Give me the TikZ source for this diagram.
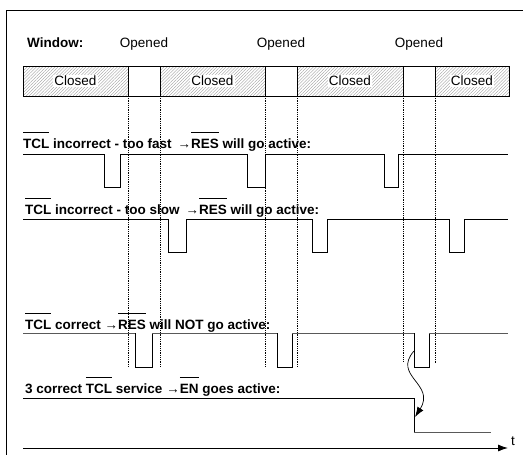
\documentclass[tikz,border=0pt]{standalone}
\usepackage{fontspec}
\setmainfont{Liberation Sans}
\usetikzlibrary{arrows.meta,patterns.meta,positioning}
\newcommand\ovl[1]{\setbox0\hbox{#1}\rlap{\raisebox{1.1em}{\rule{\wd0}{0.7pt}}}\box0\relax}

\begin{document}
\begin{tikzpicture}[x=1pt,y=-1pt,font=\fontsize{13.5}{16}\selectfont]

\tikzstyle{closed} = [rectangle, draw, line width=0.8pt, minimum height=30pt, inner sep=0pt, outer sep=0pt,
    pattern={Lines[angle=45,distance=2.2pt,line width=0.35pt]}, pattern color=gray!80]
\tikzstyle{opengap} = [rectangle, draw, line width=0.8pt, minimum width=32pt, minimum height=30pt, inner sep=0pt, outer sep=0pt]
\tikzstyle{tag} = [fill=white, inner sep=1pt]
\tikzstyle{title} = [anchor=base west, inner sep=0pt, font=\fontsize{13.5}{16}\selectfont\bfseries]
\tikzstyle{guide} = [densely dotted, line width=0.8pt]
\tikzstyle{sig} = [line width=0.9pt]

\useasboundingbox (0,0) rectangle (523,455);
\draw [line width=0.9pt] (6,455) -- (6,10) -- (523,10);

% window bar
\node [closed, minimum width=105pt] (closedA) at (75.5,81) {};
\node [opengap, right=0pt of closedA] (openA) {};
\node [closed, minimum width=105pt, right=0pt of openA] (closedB) {};
\node [opengap, right=0pt of closedB] (openB) {};
\node [closed, minimum width=106pt, right=0pt of openB] (closedC) {};
\node [opengap, right=0pt of closedC] (openC) {};
\node [closed, minimum width=74pt, right=0pt of openC] (closedD) {};
\node [tag] (txtA) at (closedA) {Closed};
\node [tag] (txtB) at (closedB) {Closed};
\node [tag] (txtC) at (closedC) {Closed};
\node [tag] (txtD) at (closedD) {Closed};

\node [title] (window) at (27,47) {Window:};
\node [anchor=base, inner sep=0pt] (opA) at (openA |- window.base) {Opened};
\node [anchor=base, inner sep=0pt] (opB) at (openB |- window.base) {Opened};
\node [anchor=base, inner sep=0pt] (opC) at (openC |- window.base) {Opened};

\draw [guide] (openA.south west) -- ++(0,271);
\draw [guide] (openA.south east) -- ++(0,271);
\draw [guide] (openB.south west) -- ++(0,271);
\draw [guide] (openB.south east) -- ++(0,271);
\draw [guide] (openC.south west) -- ++(0,266);
\draw [guide] (openC.south east) -- ++(0,267);

% signals
\node [title] (fast) at (23,148) {\ovl{TCL} incorrect - too fast \,→\ovl{RES} will go active:};
\draw [sig] (23,154) -- (104,154) -- (104,187) -- (120,187) -- (120,154) -- (247,154) -- (247,187)
  -- (265,187) -- (265,154) -- (384,154) -- (384,187) -- (398,187) -- (398,154) -- (508,154);

\node [title] (slow) at (25,214) {\ovl{TCL} incorrect - too slow \,→\ovl{RES} will go active:};
\draw [sig] (23,219) -- (168,219) -- (168,252) -- (186,252) -- (186,219) -- (312,219) -- (312,252)
  -- (327,252) -- (327,219) -- (449,219) -- (449,252) -- (464,252) -- (464,219) -- (508,219);

\node [title] (correct) at (25,329) {\ovl{TCL} correct →\ovl{RES} will NOT go active:};
\draw [sig, gray!70!black] (23,333) -- (135,333);
\draw [sig] (135,333) -- (135,367) -- (152,367) -- (152,333);
\draw [sig, gray!70!black] (152,333) -- (277,333);
\draw [sig] (277,333) -- (277,367) -- (292,367) -- (292,333);
\draw [sig, gray!70!black] (292,333) -- (414,333);
\draw [sig] (414,333) -- (414,367) -- (429,367) -- (429,333);
\draw [sig, gray!70!black] (429,333) -- (508,333);

\node [title] (service) at (25,393) {3 correct \ovl{TCL} service →\ovl{EN} goes active:};
\draw [sig] (23,398) -- (414,398) -- (414,432);
\draw [sig, gray!70!black] (414,432) -- (491,432);

\coordinate (cause) at (414,351);
\coordinate (effect) at (415,417);
\draw [line width=0.7pt, -{Latex[length=10pt,width=7pt]}] (cause) .. controls (392,376) and (436,384) .. (effect);

% time axis
\draw [line width=0.9pt, -{Latex[length=10pt,width=7pt]}] (23,448) -- (508,448);
\node [anchor=base west, inner sep=0pt] (t) at (511,445) {t};

\end{tikzpicture}
\end{document}
